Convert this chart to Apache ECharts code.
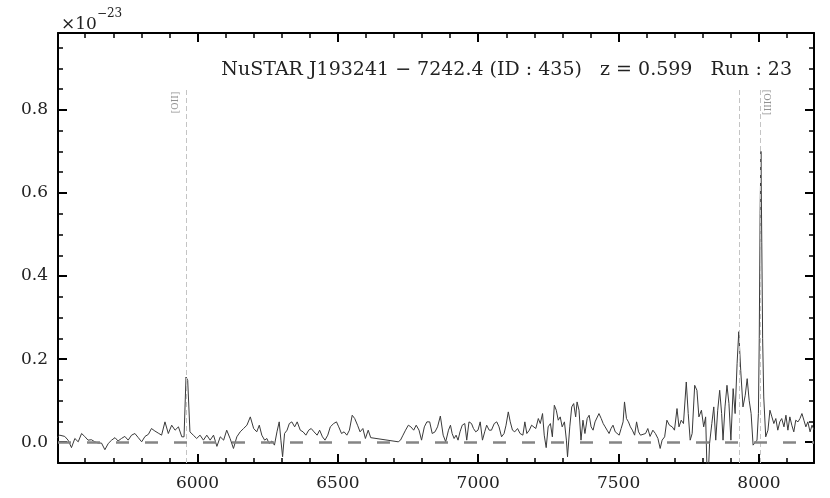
<!DOCTYPE html>
<html>
<head>
<meta charset="utf-8">
<script src="https://cdn.jsdelivr.net/npm/echarts@6/dist/echarts.min.js"></script>
<style>
  html, body { margin: 0; padding: 0; background: #fff; }
  #chart { width: 830px; height: 498px; }
</style>
</head>
<body>
<div id="chart"></div>
<script>
// wavelength (Angstrom) and flux (x 1e-23)
const wavelength = [
  5497, 5509, 5527, 5539, 5551, 5563, 5575, 5587, 5598, 5610, 5622, 5634, 5646, 5658, 5670, 5682,
  5694, 5706, 5717, 5729, 5741, 5753, 5765, 5777, 5789, 5801, 5813, 5825, 5836, 5848, 5860, 5872,
  5884, 5896, 5908, 5920, 5932, 5944, 5952, 5959, 5965, 5973, 5985, 5997, 6009, 6021, 6033, 6045,
  6057, 6069, 6081, 6093, 6104, 6116, 6128, 6140, 6152, 6164, 6176, 6188, 6200,
  6211, 6220, 6229, 6239, 6247, 6255, 6265, 6274, 6283, 6291, 6297, 6303, 6310, 6319, 6327, 6336,
  6346, 6355, 6366, 6376, 6386, 6396, 6405, 6415, 6426, 6435, 6445, 6454, 6464, 6473, 6485, 6495,
  6503, 6513, 6522, 6532, 6541, 6551, 6560, 6570, 6579, 6589, 6598, 6608, 6617,
  6715, 6723, 6732, 6741, 6751, 6760, 6770, 6779, 6789, 6798, 6808, 6817, 6827, 6836, 6846, 6855,
  6865, 6875, 6884, 6894,
  6901, 6907, 6914, 6921, 6928, 6935, 6943, 6952, 6959, 6967, 6976, 6983, 6991, 6999, 7007, 7015,
  7023, 7030, 7039, 7047, 7057, 7066, 7074, 7083, 7092, 7099, 7107, 7114, 7122, 7130, 7140, 7149,
  7159, 7166, 7173, 7182, 7190, 7197, 7205, 7214, 7221, 7229, 7235, 7242, 7249, 7257, 7264, 7271,
  7278, 7285, 7292, 7299, 7307, 7314, 7318, 7326, 7333, 7340, 7347, 7352, 7359, 7366, 7373, 7380,
  7388, 7395, 7402, 7409, 7416, 7423, 7430, 7438, 7445, 7452, 7459, 7466, 7473, 7480, 7488, 7495,
  7502, 7509, 7516, 7521, 7528, 7535, 7542, 7549, 7557, 7564, 7571, 7578, 7585,
  7596, 7604, 7612, 7622, 7631, 7640, 7648, 7655, 7664, 7672, 7681, 7691, 7699, 7708, 7715, 7723,
  7731, 7741, 7748, 7755, 7762, 7771, 7779, 7786, 7795, 7803, 7810, 7817, 7824, 7832, 7839, 7846,
  7853, 7860, 7867, 7872, 7879, 7886, 7893, 7900, 7908, 7915, 7922, 7928, 7935, 7943, 7951, 7958,
  7965, 7972, 7979, 7986, 7993, 7998, 8001, 8004, 8007, 8010, 8013, 8017, 8024, 8032, 8039, 8046,
  8053, 8060, 8067, 8074, 8081, 8089, 8096, 8103, 8110, 8117, 8124, 8131, 8139, 8146, 8153, 8160,
  8167, 8174, 8182, 8189, 8196
];
const flux = [
  0.009, 0.017, 0.014, 0.005, -0.013, 0.009, 0.001, 0.021, 0.014, 0.005, 0.006, 0.001, -0.002, -0.002, -0.018, -0.003,
  0.005, 0.011, 0.003, 0.009, 0.014, 0.005, 0.017, 0.021, 0.011, 0.001, 0.014, 0.019, 0.033, 0.027, 0.022, 0.017,
  0.049, 0.021, 0.041, 0.029, 0.037, 0.013, 0.013, 0.157, 0.149, 0.025, 0.017, 0.009, 0.017, 0.005, 0.017, 0.005,
  0.017, -0.010, 0.013, 0.005, 0.029, 0.009, -0.015, 0.013, 0.025, 0.033, 0.041, 0.061, 0.033,
  0.025, 0.041, 0.017, 0.005, 0.009, -0.003, 0.003, -0.007, 0.025, 0.049, 0.005, -0.035, 0.021, 0.029, 0.045, 0.049,
  0.037, 0.049, 0.029, 0.025, 0.017, 0.029, 0.033, 0.025, 0.017, 0.029, 0.013, 0.005, 0.017, 0.037, 0.045, 0.049,
  0.037, 0.021, 0.025, 0.017, 0.029, 0.065, 0.057, 0.041, 0.025, 0.033, 0.009, 0.029, 0.011,
  0.001, 0.005, 0.017, 0.029, 0.041, 0.037, 0.029, 0.041, 0.029, 0.005, 0.037, 0.049, 0.049, 0.021, 0.025, 0.037,
  0.063, 0.017, 0.001, 0.029,
  0.041, 0.021, 0.009, 0.017, 0.005, 0.025, 0.041, 0.045, 0.005, 0.049, 0.045, 0.033, 0.025, 0.029, 0.049, 0.005,
  0.025, 0.041, 0.029, 0.029, 0.045, 0.049, 0.037, 0.013, 0.021, 0.041, 0.073, 0.049, 0.029, 0.025, 0.033, 0.021,
  0.017, 0.049, 0.021, 0.029, 0.041, 0.045, 0.033, 0.057, 0.045, 0.069, 0.017, -0.013, 0.037, 0.045, 0.013, 0.089,
  0.077, 0.053, 0.061, 0.037, 0.049, 0.005, -0.035, 0.037, 0.085, 0.093, 0.061, 0.097, 0.077, 0.005, 0.053, 0.021,
  0.057, 0.065, 0.037, 0.029, 0.049, 0.045, 0.069, 0.057, 0.045, 0.037, 0.029, 0.021, 0.033, 0.041, 0.025, 0.021,
  0.017, 0.033, 0.049, 0.097, 0.057, 0.049, 0.037, 0.029, 0.017, 0.049, 0.025, 0.017, 0.013,
  0.021, 0.033, 0.014, 0.029, 0.021, 0.009, -0.015, 0.005, 0.013, 0.053, 0.041, 0.037, 0.029, 0.081, 0.037, 0.053,
  0.045, 0.145, 0.069, 0.005, 0.021, 0.137, 0.125, 0.061, 0.077, 0.037, 0.061, -0.120, -0.003, 0.045, 0.085, 0.005,
  0.077, 0.125, 0.069, 0.005, 0.085, 0.137, 0.093, 0.005, 0.129, 0.069, 0.189, 0.266, 0.173, 0.085, 0.113, 0.153,
  0.101, 0.069, -0.007, -0.011, 0.005, 0.069, 0.250, 0.550, 0.700, 0.480, 0.250, 0.109, 0.013, 0.029, 0.077, 0.061,
  0.045, 0.057, 0.029, 0.049, 0.057, 0.037, 0.065, 0.029, 0.061, 0.041, 0.025, 0.053, 0.049, 0.057, 0.069, 0.053,
  0.037, 0.049, 0.025, 0.041, 0.030
];

// emission lines at z = 0.599
const lineWave = [5959.5, 7930, 8006];
const lineNames = ['[OII]', '', '[OIII]'];

const xMin = 5503, xMax = 8196;
const yMin = -0.05, yMax = 0.985;
const lineTop = 0.85;
const labelY = 0.818;

const serif = 'DejaVu Serif';

function makeAxis(extra) {
  return Object.assign({
    type: 'value',
    axisLine: { show: true, onZero: false, lineStyle: { color: '#000', width: 2 } },
    axisTick: { show: true, inside: true, length: 9, lineStyle: { color: '#000', width: 2 } },
    splitLine: { show: false },
    minorSplitLine: { show: false }
  }, extra);
}

const chart = echarts.init(document.getElementById('chart'), null, { renderer: 'canvas' });

const option = {
  animation: false,
  backgroundColor: '#fff',
  grid: { left: 58, right: 16, top: 33, bottom: 35, containLabel: false },
  title: [
    {
      text: 'NuSTAR J193241 − 7242.4 (ID : 435)   z = 0.599   Run : 23',
      right: 33, top: 56,
      textStyle: { fontFamily: serif, fontSize: 19, fontWeight: 'normal', color: '#222' }
    },
    {
      text: '{a|×10}{b|−23}',
      left: 56, top: 3,
      textStyle: {
        fontWeight: 'normal',
        rich: {
          a: { fontFamily: serif, fontSize: 17, fontWeight: 'normal', color: '#222', verticalAlign: 'bottom', padding: [8, 0, 0, 0] },
          b: { fontFamily: serif, fontSize: 12, fontWeight: 'normal', color: '#222', verticalAlign: 'top' }
        }
      }
    }
  ],
  xAxis: [
    makeAxis({
      min: xMin, max: xMax, position: 'bottom',
      minorTick: { show: true, splitNumber: 5, length: 5, lineStyle: { color: '#000', width: 1.5 } },
      axisLabel: {
        fontFamily: serif, fontSize: 17, color: '#222', margin: 12, showMinLabel: false, showMaxLabel: false,
        formatter: (v) => String(Math.round(v))
      }
    }),
    makeAxis({
      min: xMin, max: xMax, position: 'top',
      minorTick: { show: true, splitNumber: 5, length: 5, lineStyle: { color: '#000', width: 1.5 } },
      axisLabel: { show: false }
    })
  ],
  yAxis: [
    makeAxis({
      min: yMin, max: yMax, position: 'left',
      minorTick: { show: true, splitNumber: 4, length: 5, lineStyle: { color: '#000', width: 1.5 } },
      axisLabel: {
        fontFamily: serif, fontSize: 17, color: '#222', margin: 10, showMinLabel: false, showMaxLabel: false,
        formatter: (v) => v.toFixed(1)
      }
    }),
    makeAxis({
      min: yMin, max: yMax, position: 'right',
      minorTick: { show: true, splitNumber: 4, length: 5, lineStyle: { color: '#000', width: 1.5 } },
      axisLabel: { show: false }
    })
  ],
  series: [
    {
      // emission line markers
      type: 'line',
      data: [],
      markLine: {
        silent: true,
        symbol: ['none', 'none'],
        label: { show: false },
        lineStyle: { color: '#c4c4c4', width: 1, type: [5, 3] },
        data: lineWave.map((w) => [{ coord: [w, yMin] }, { coord: [w, lineTop] }])
      }
    },
    {
      // zero level
      type: 'line',
      data: [],
      markLine: {
        silent: true,
        symbol: ['none', 'none'],
        label: { show: false },
        lineStyle: { color: '#858585', width: 2.5, type: [13, 16] },
        data: [{ yAxis: 0 }]
      }
    },
    {
      name: 'spectrum',
      type: 'line',
      data: wavelength.map((w, i) => [w, flux[i]]),
      showSymbol: false,
      symbol: 'none',
      clip: true,
      lineStyle: { color: '#3a3a3a', width: 1 },
      z: 3
    },
    {
      // line names
      type: 'scatter',
      symbolSize: 1,
      itemStyle: { color: 'rgba(0,0,0,0)' },
      silent: true,
      data: lineWave.map((w, i) => ({
        value: [w, labelY],
        label: {
          show: lineNames[i] !== '',
          formatter: lineNames[i],
          position: 'inside',
          rotate: i === 0 ? 90 : -90,
          offset: i === 0 ? [0, -10] : [0, -6],
          fontFamily: serif, fontSize: 9, color: '#777'
        }
      }))
    }
  ]
};

chart.setOption(option);
</script>
</body>
</html>
